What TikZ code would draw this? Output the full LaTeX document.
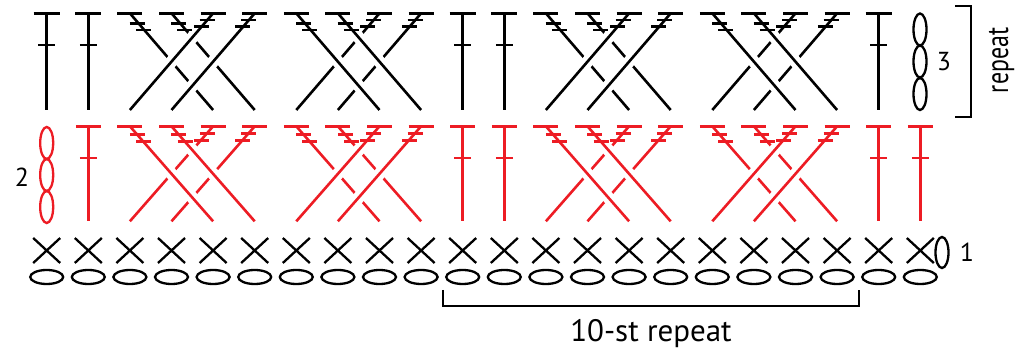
\documentclass[tikz,border=0pt]{standalone}
\usepackage{fontspec}
\setmainfont{PT Sans}
\usepackage{xcolor}
\definecolor{chartred}{RGB}{237,28,36}

\begin{document}
\begin{tikzpicture}[x=1pt, y=-1pt, line width=2.6pt,
    halo/.style={preaction={draw=white, line width=12pt}},
    chain/.style={x radius=16.5pt, y radius=7pt},
    upchain/.style={x radius=6.5pt, y radius=16pt},
    numlbl/.style={font=\fontsize{26}{26}\selectfont}]
    \useasboundingbox (0,0) rectangle (1015,352);

    % foundation chain and row 1
    \foreach \k in {0,...,21} {
        \pgfmathsetmacro\xx{46.7+41.6*\k}
        \draw[black, line width=2.3pt] (\xx,277) ellipse [chain];
        \draw[black, line width=2.3pt] (\xx-13.5,238) -- (\xx+13.5,263) (\xx-13.5,263) -- (\xx+13.5,238);
    }
    \draw[black, line width=2.3pt] (942,252.5) ellipse [x radius=6.5pt, y radius=15.5pt];
    \node[numlbl] (lbl1) at (967,252) {1};

    % row 2
    \foreach \y in {143,175,207}
        \draw[chartred, line width=2.3pt] (46.7,\y) ellipse [upchain];
    \node[numlbl] (lbl2) at (22,177) {2};
    \foreach \k in {1,10,11,20,21} {
        \pgfmathsetmacro\xx{46.7+41.6*\k}
        \draw[chartred] (\xx,126.3) -- (\xx,221.3)
            (\xx-12.5,126.3) -- (\xx+12.5,126.3) (\xx-8.5,158) -- (\xx+8.5,158);
    }
    \foreach \c/\s in {2/-1,6/1,12/-1,16/1} {
        \pgfmathsetmacro\xa{46.7+41.6*\c}
        \foreach \i in {0,1} {
            \pgfmathsetmacro\xb{\xa+(1-\s)*41.6+41.6*\i}
            \draw[chartred] (\xb,126.3) -- ++(\s*83.2,95);
        }
        \foreach \i in {0,1} {
            \pgfmathsetmacro\xb{\xa+(1+\s)*41.6+41.6*\i}
            \draw[chartred, halo] (\xb,126.3) -- ++(-\s*83.2,95);
        }
        \foreach \i in {0,1} {
            \pgfmathsetmacro\xb{\xa+41.6*\i}
            \pgfmathsetmacro\xc{\xa+83.2+41.6*\i}
            \draw[chartred] (\xb-12.5,126.3) -- (\xb+12.5,126.3)
                (\xb+7.4-7.5,134.8) -- ++(15,0) (\xb+13.6-7.5,141.8) -- ++(15,0);
            \draw[chartred] (\xc-12.5,126.3) -- (\xc+12.5,126.3)
                (\xc-6-7.5,133.3) -- ++(15,0) (\xc-11.8-7.5,140.3) -- ++(15,0);
        }
    }

    % row 3
    \foreach \k in {0,1,10,11,20} {
        \pgfmathsetmacro\xx{46.7+41.6*\k}
        \draw[black] (\xx,13.3) -- (\xx,110)
            (\xx-13,13.3) -- (\xx+13,13.3) (\xx-8.5,45) -- (\xx+8.5,45);
    }
    \foreach \c/\s in {2/1,6/-1,12/1,16/-1} {
        \pgfmathsetmacro\xa{46.7+41.6*\c}
        \foreach \i in {0,1} {
            \pgfmathsetmacro\xb{\xa+(1-\s)*41.6+41.6*\i}
            \draw[black] (\xb,13.3) -- ++(\s*83.2,96.7);
        }
        \foreach \i in {0,1} {
            \pgfmathsetmacro\xb{\xa+(1+\s)*41.6+41.6*\i}
            \draw[black, halo] (\xb,13.3) -- ++(-\s*83.2,96.7);
        }
        \foreach \i in {0,1} {
            \pgfmathsetmacro\xb{\xa+41.6*\i}
            \pgfmathsetmacro\xc{\xa+83.2+41.6*\i}
            \draw[black] (\xb-12.5,13.3) -- (\xb+12.5,13.3)
                (\xb+7.3-7.5,23.3) -- ++(15,0) (\xb+13.4-7.5,30) -- ++(15,0);
            \draw[black] (\xc-12.5,13.3) -- (\xc+12.5,13.3)
                (\xc-6-7.5,20) -- ++(15,0) (\xc-11.8-7.5,26.7) -- ++(15,0);
        }
    }
    \foreach \y in {29.5,61.5,94}
        \draw[black, line width=2.3pt] (920,\y) ellipse [upchain];
    \node[numlbl] (lbl3) at (944,62) {3};

    % repeat brackets
    \coordinate (rtop) at (955,6);
    \coordinate (rbot) at (955,117);
    \draw[black, line width=2.3pt] (rtop) -- (971,6) -- (971,117) -- (rbot);
    \node[font=\fontsize{31}{31}\selectfont, rotate=90, xscale=0.77, anchor=base]
        (rowrep) at (1008,60.5) {repeat};
    \coordinate (sleft) at (443,290);
    \coordinate (sright) at (859,290);
    \draw[black, line width=2.3pt] (sleft) -- (443,306) -- (859,306) -- (sright);
    \node[font=\fontsize{31}{31}\selectfont, anchor=base] (strep) at (651,342) {10-st repeat};
\end{tikzpicture}
\end{document}
